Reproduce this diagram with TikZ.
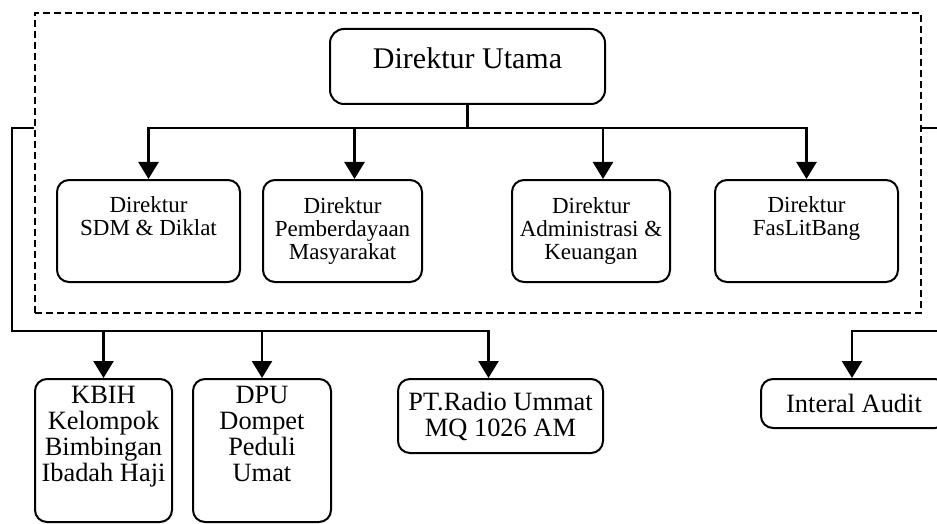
\documentclass[tikz,border=0pt]{standalone}
\usepackage{fontspec}
\setmainfont{Liberation Serif}
\usepackage{tikz}
\usetikzlibrary{positioning,arrows.meta,fit,calc}
\tikzset{
  >=Triangle,
  orgbox/.style={draw,line width=1pt,rounded corners=6pt,align=center,inner sep=0pt},
  chief/.style ={orgbox,rounded corners=7pt,font=\fontsize{15}{17}\selectfont},
  dir/.style   ={orgbox,font=\fontsize{11.5}{11.5}\selectfont},
  subunit/.style={orgbox,font=\fontsize{13.2}{13}\selectfont},
  dashbox/.style={draw,dash pattern=on 3.5pt off 2pt,line width=1pt,inner sep=0pt},
  conn/.style={line width=1.2pt},
  flow/.style={conn,-{Triangle[length=8.5pt,width=10pt]}},
}
\begin{document}
\begin{tikzpicture}[x=0.5pt,y=-0.5pt]
  \clip (0,0) rectangle (937,524);
  % --- board of directors ---
  \node[dashbox,fit={(35,13) (921,313)}] (frame) {};
  \node[chief,minimum width=137.5pt,minimum height=37.5pt,text depth=8pt] (utama) at (467.5,66.5) {Direktur Utama};
  \node[dir,minimum width=91.5pt,minimum height=51pt] (sdm) at (148.5,231) {Direktur\\SDM \& Diklat\\\strut};
  \node[dir,minimum width=79.5pt,minimum height=51pt] (pemb) at (342.5,231) {Direktur\\Pemberdayaan\\Masyarakat};
  \node[dir,minimum width=79pt,minimum height=51pt] (adm) at (591,231) {Direktur\\Administrasi \&\\Keuangan};
  \node[dir,minimum width=91.5pt,minimum height=51pt] (fas) at (806.5,231) {Direktur\\FasLitBang\\\strut};
  % --- units below ---
  \node[subunit,minimum width=68.5pt,minimum height=71.5pt] (kbih) at (103.5,450.5) {KBIH\\Kelompok\\Bimbingan\\Ibadah Haji\\\strut};
  \node[subunit,minimum width=69pt,minimum height=71.5pt] (dpu) at (262,450.5) {DPU\\Dompet\\Peduli\\Umat\\\strut};
  \node[subunit,minimum width=102.5pt,minimum height=37pt] (radio) at (500.5,416) {PT.Radio Ummat\\MQ 1026 AM};
  \node[subunit,minimum width=93pt,minimum height=24.5pt] (audit) at (854,403.5) {Interal Audit};
  % --- bus under Direktur Utama ---
  \coordinate (bus) at (467,128);
  \draw[conn] (utama.south) -- (utama.south |- bus);
  \draw[flow] (utama.south |- bus) -| (sdm.north);
  \draw[flow] (utama.south |- bus) -| ([xshift=6pt]pemb.north);
  \draw[flow] (utama.south |- bus) -| ([xshift=6pt]adm.north);
  \draw[flow] (utama.south |- bus) -| (fas.north);
  % --- outer lines to units ---
  \coordinate (lout) at (12,331);
  \coordinate (rout) at (960,331);
  \draw[flow] (frame.west |- bus) -| (lout) -| ([xshift=-6pt]radio.north);
  \draw[flow] (lout -| kbih.north) -- (kbih.north);
  \draw[flow] (lout -| dpu.north) -- (dpu.north);
  \draw[flow] (frame.east |- bus) -| (rout) -| ([xshift=-1pt]audit.north);
\end{tikzpicture}
\end{document}
